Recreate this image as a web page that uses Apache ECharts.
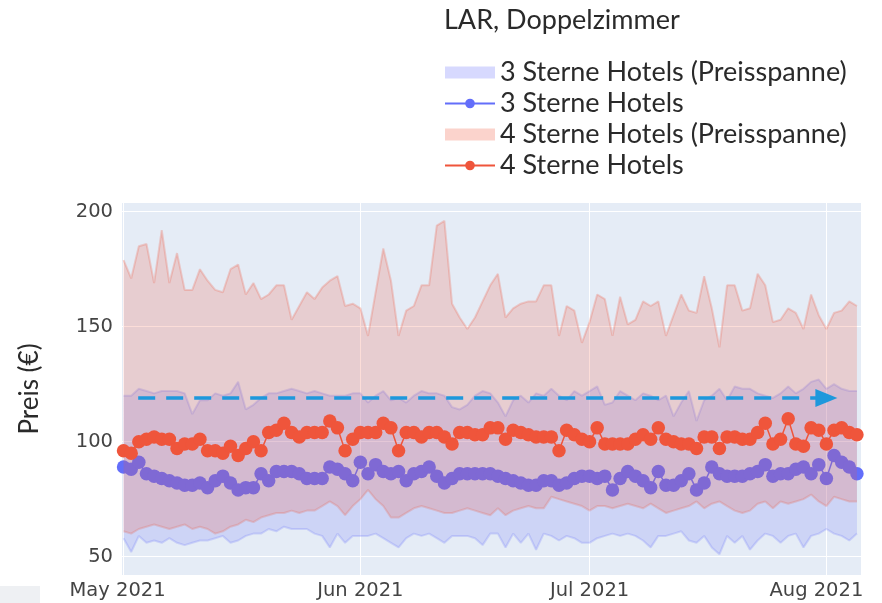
<!DOCTYPE html>
<html><head><meta charset="utf-8">
<script src="https://cdn.jsdelivr.net/npm/echarts@6/dist/echarts.min.js"></script>
<style>html,body{margin:0;padding:0;background:#fff}#c{width:882px;height:603px}</style>
</head><body><div id="c"></div>
<script>
// ---- data (daily, 2021-05-01 .. 2021-08-05) ----
const startDay = [2021, 4, 1];   // year, monthIndex, day
const dayCount = 97;
const star3Min = [58,52,59,56,57,56,58,56,55,56,57,57,58,59,56,57,59,60,60,62,61,63,62,62,
  62,60,59,54,60,56,59,59,59,60,58,56,54,58,60,59,60,58,56,59,59,59,58,55,60,
  60,54,60,56,60,53,60,59,57,59,58,56,56,58,59,60,59,60,59,57,54,59,59,
  60,61,57,56,59,54,51,59,56,59,53,57,60,59,56,59,60,54,59,60,62,60,59,57,60];
const star3Max = [120,120,123,122,121,122,122,122,121,112,118,118,121,120,121,126,114,116,119,121,121,122,123,122,
  121,122,121,120,120,120,121,121,117,120,122,118,119,117,120,122,121,121,120,115,114,116,120,122,
  121,117,111,118,120,117,121,120,123,120,118,122,120,122,124,116,117,122,120,118,121,120,118,120,
  111,117,122,109,118,120,123,118,124,123,123,121,120,119,121,124,121,123,126,127,123,125,123,122,122];
const star3Mean = [89,88,91,86,85,84,83,82,81,81,82,80,83,85,82,79,80,80,86,83,87,87,87,86,
  84,84,84,89,88,86,83,91,86,90,87,86,87,83,86,87,89,85,82,84,86,86,86,86,
  86,85,84,83,82,81,81,83,83,81,82,84,85,85,84,85,79,84,87,85,83,80,87,81,
  81,83,86,79,82,89,86,85,85,85,86,87,90,85,86,86,88,89,86,90,84,94,91,89,86];
const star4Min = [61,60,62,63,64,63,62,63,64,62,63,62,60,61,63,64,66,65,67,68,69,69,70,
  69,70,70,72,74,72,68,72,75,79,75,72,67,67,69,71,72,71,70,69,69,70,71,70,69,68,
  71,68,70,71,72,71,71,76,75,74,73,72,70,72,72,71,72,73,72,71,73,71,69,70,71,72,74,71,73,74,
  72,70,69,70,73,74,71,74,73,74,75,77,74,72,76,75,74,74];
const star4Max = [179,171,185,186,169,192,169,182,166,166,175,170,166,165,175,177,164,169,162,164,168,168,153,159,165,162,167,170,172,159,160,158,146,
  165,184,170,146,157,159,168,168,194,196,160,154,149,154,161,168,173,154,158,160,161,161,168,168,146,159,157,143,152,164,162,
  146,163,151,153,161,159,161,146,155,164,157,156,172,158,141,168,168,157,158,173,168,152,153,158,156,149,164,155,149,156,157,161,159];
const star4Mean = [96,95,100,101,102,101,101,97,99,99,101,96,96,95,98,94,97,100,96,104,105,108,104,102,
  104,104,104,109,106,96,101,104,104,104,108,106,96,104,104,102,104,104,102,99,104,104,103,103,
  106,106,101,105,104,103,102,102,102,96,105,103,101,100,106,99,99,99,99,101,103,101,106,101,
  100,99,99,97,102,102,97,102,102,101,101,104,108,99,101,110,99,98,106,105,99,105,106,104,103];
const seriesNames = ['3 Sterne Hotels (Preisspanne)','3 Sterne Hotels','4 Sterne Hotels (Preisspanne)','4 Sterne Hotels'];
const yTicks = [50, 100, 150, 200];
const xTickDates = [[2021,4,1],[2021,5,1],[2021,6,1],[2021,7,1]];
const xTickLabels = ['May 2021','Jun 2021','Jul 2021','Aug 2021'];
const arrowLevel = 119;
const arrowFrom = [2021, 4, 2, 22];
const arrowTo = [2021, 7, 1, 0];

// ---- build ----
const ts = (a) => new Date(a[0], a[1], a[2], a[3] || 0, a[4] || 0).getTime();
const dates = [];
for (let i = 0; i < dayCount; i++) dates.push(new Date(startDay[0], startDay[1], startDay[2] + i).getTime());
const pair = (arr) => arr.map((v, i) => [dates[i], v]);
const range = (hi, lo) => hi.map((v, i) => [dates[i], v - lo[i]]);
const xTicks = xTickDates.map(d => ts(d));
const DAY = 86400000;
const labelFor = (v) => {
  let k = -1;
  xTicks.forEach((t, i) => { if (Math.abs(t - v) < DAY / 2) k = i; });
  if (k < 0) return '';
  return k === 0 ? '{a|' + xTickLabels[k] + '}' : k === 3 ? '{b|' + xTickLabels[k] + '}' : '{c|' + xTickLabels[k] + '}';
};

const FONT = 'Lato';
const TICKFONT = 'DejaVu Sans';
const BLUE = '#636EFA', RED = '#EF553B';
const chart = echarts.init(document.getElementById('c'), null, {renderer: 'canvas'});
chart.setOption({
  animation: false,
  backgroundColor: '#ffffff',
  title: {
    text: 'LAR, Doppelzimmer', left: 444, top: 7, padding: 0,
    textStyle: {fontFamily: FONT, fontSize: 27, fontWeight: 'normal', color: '#2a2a2a'}
  },
  legend: {
    orient: 'vertical', left: 444, top: 59, padding: 0, itemWidth: 50, itemHeight: 12, itemGap: 4,
    textStyle: {fontFamily: FONT, fontSize: 27, color: '#2a2a2a', lineHeight: 27},
    data: [
      {name: seriesNames[0], icon: 'rect', itemStyle: {color: 'rgba(99,110,250,0.26)'}},
      {name: seriesNames[1]},
      {name: seriesNames[2], icon: 'rect', itemStyle: {color: 'rgba(239,85,59,0.26)'}},
      {name: seriesNames[3]}
    ]
  },
  grid: {left: 121, right: 21, top: 203, bottom: 28, show: true, backgroundColor: '#E5ECF6', borderWidth: 0},
  xAxis: {
    type: 'time',
    min: ts([2021, 3, 30, 16]), max: ts([2021, 7, 5, 12, 45]),
    minInterval: 28 * DAY, maxInterval: 31 * DAY,
    axisLine: {show: false}, axisTick: {show: false},
    splitLine: {show: true, lineStyle: {color: '#ffffff', width: 1}},
    axisLabel: {
      margin: 6, showMinLabel: false, showMaxLabel: false, hideOverlap: false,
      formatter: labelFor,
      rich: {a: {fontFamily: TICKFONT, fontSize: 19.5, color: '#444', padding: [0, 12, 0, 0]},
             b: {fontFamily: TICKFONT, fontSize: 19.5, color: '#444', padding: [0, 20, 0, 0]},
             c: {fontFamily: TICKFONT, fontSize: 19.5, color: '#444'}}
    }
  },
  yAxis: {
    type: 'value', min: 42, max: 203.8,
    name: 'Preis (€)', nameLocation: 'middle', nameGap: 78,
    nameTextStyle: {fontFamily: FONT, fontSize: 26, color: '#2a2a2a'},
    axisLine: {show: false}, axisTick: {show: false, customValues: yTicks},
    splitLine: {show: true, lineStyle: {color: '#ffffff', width: 1}},
    axisLabel: {customValues: yTicks, margin: 8, fontFamily: TICKFONT, fontSize: 19.5, color: '#444'}
  },
  graphic: [{type: 'rect', shape: {x: 0, y: 586, width: 40, height: 17}, style: {fill: '#EEF0F3'}, silent: true}],
  series: [
    {name: 's3lo', type: 'line', stack: 's3', z: 1, data: pair(star3Min), symbol: 'none', silent: true,
     lineStyle: {color: 'rgba(99,110,250,0.22)', width: 2}},
    {name: seriesNames[0], type: 'line', stack: 's3', z: 1, data: range(star3Max, star3Min), symbol: 'none', silent: true,
     itemStyle: {color: 'rgba(99,110,250,0.26)'},
     lineStyle: {color: 'rgba(99,110,250,0.22)', width: 2}, areaStyle: {color: 'rgba(99,110,250,0.19)', opacity: 1}},
    {name: seriesNames[1], type: 'line', z: 2, data: pair(star3Mean), symbol: 'circle', symbolSize: 13.5,
     itemStyle: {color: BLUE}, lineStyle: {color: BLUE, width: 1.5}},
    {name: 's4lo', type: 'line', stack: 's4', z: 3, data: pair(star4Min), symbol: 'none', silent: true,
     lineStyle: {color: 'rgba(239,85,59,0.22)', width: 2}},
    {name: seriesNames[2], type: 'line', stack: 's4', z: 3, data: range(star4Max, star4Min), symbol: 'none', silent: true,
     itemStyle: {color: 'rgba(239,85,59,0.26)'},
     lineStyle: {color: 'rgba(239,85,59,0.24)', width: 2}, areaStyle: {color: 'rgba(239,85,59,0.2)', opacity: 1}},
    {name: seriesNames[3], type: 'line', z: 4, data: pair(star4Mean), symbol: 'circle', symbolSize: 13.5,
     itemStyle: {color: RED}, lineStyle: {color: RED, width: 1.5},
     markLine: {
       silent: true, z: 5, symbol: ['none', 'triangle'], symbolSize: [18, 22],
       label: {show: false}, emphasis: {disabled: true},
       lineStyle: {color: '#1E98DC', type: [17, 11], width: 3.5},
       itemStyle: {color: '#1E98DC'},
       data: [[{coord: [ts(arrowFrom), arrowLevel]}, {coord: [ts(arrowTo), arrowLevel]}]]
     }}
  ]
});
</script></body></html>
